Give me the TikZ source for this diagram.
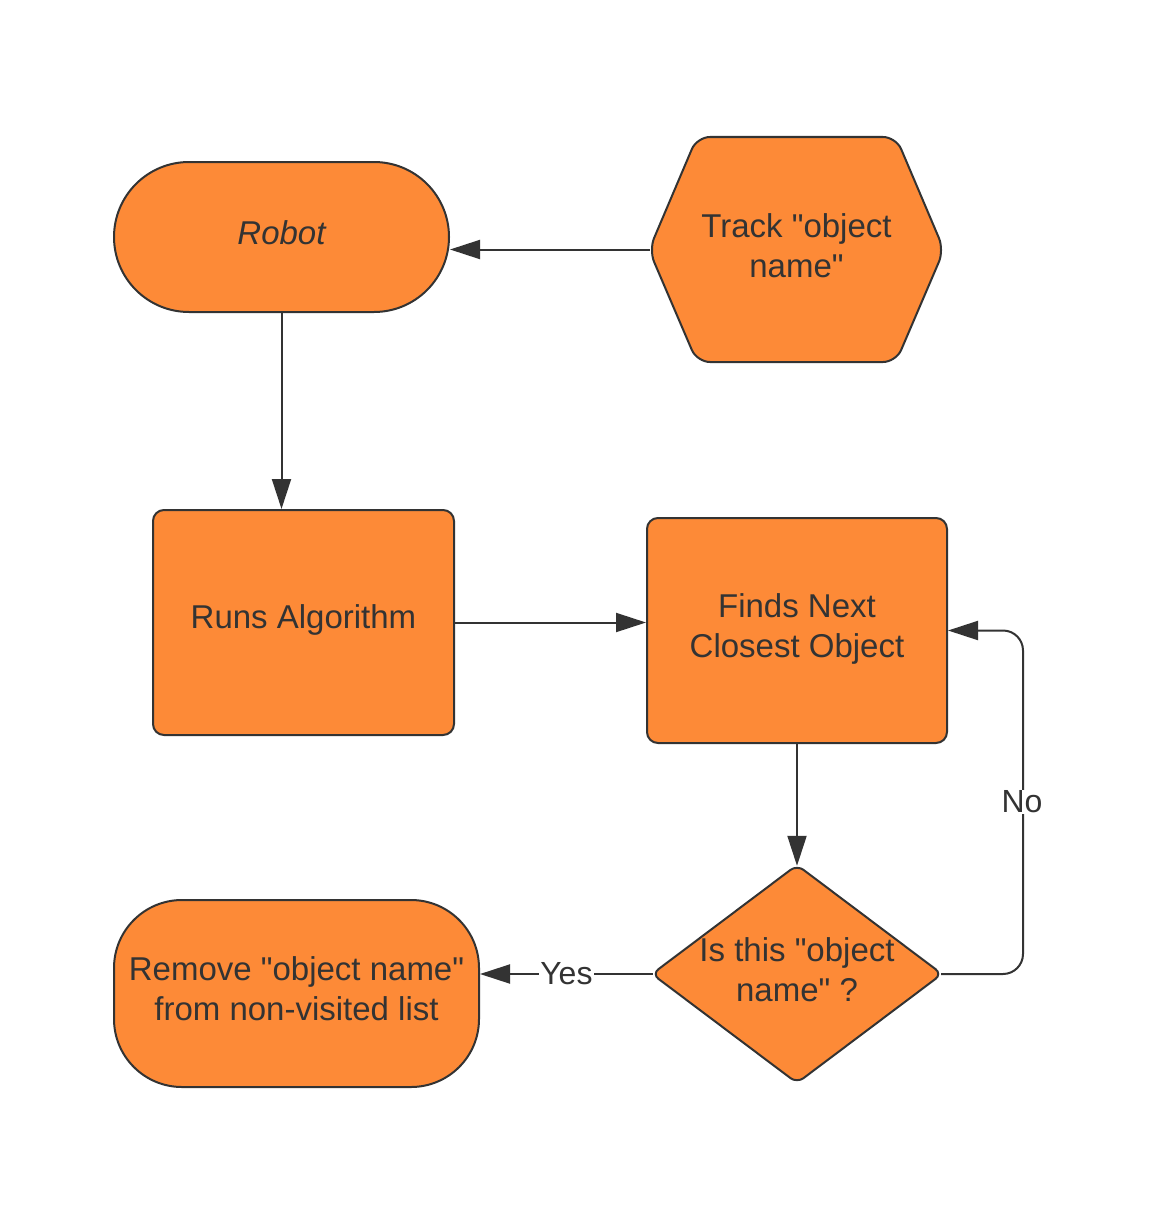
\documentclass[tikz,border=0pt]{standalone}
\usepackage{fontspec}
\setmainfont{Liberation Sans}[Ligatures=TeXOff]
\usetikzlibrary{arrows.meta}
\definecolor{org}{HTML}{FD8A37}
\definecolor{ink}{HTML}{333333}
\begin{document}
\begin{tikzpicture}[x=1pt,y=-1pt,
  shapefill/.style={draw=ink, fill=org, line width=2pt},
  txt/.style={text=ink, font=\fontsize{33}{40}\selectfont, align=center, inner sep=0pt},
  box/.style={shapefill, inner sep=0pt},
  conn/.style={draw=ink, line width=2pt, -{Triangle[length=30pt,width=19pt]}},
  lbl/.style={fill=white, text=ink, font=\fontsize{32}{38}\selectfont, inner sep=1pt}]
\useasboundingbox[fill=white] (0,0) rectangle (1149,1228);

% Robot
\node[box, rounded corners=75pt, minimum width=335pt, minimum height=150pt] (robot) at (281.5,237) {};
\node[txt, font=\fontsize{33}{40}\selectfont\itshape] (robott) at ([yshift=4pt]robot.center) {Robot};

% Hexagon
\path[shapefill, rounded corners=13pt] (796,137) -- (896,137) -- (944,250) -- (896,362) -- (697,362) -- (649,250) -- (697,137) -- cycle;
\node[minimum width=293pt, minimum height=225pt, inner sep=0pt] (hex) at (796.5,249.5) {};
\node[txt] (hext) at ([yshift=4pt]hex.center) {Track "object\\name"};

% Runs Algorithm
\node[box, rounded corners=11pt, minimum width=301pt, minimum height=225pt] (run) at (303.5,622.5) {};
\node[txt] (runt) at ([yshift=3pt]run.center) {Runs Algorithm};

% Finds Next
\node[box, rounded corners=11pt, minimum width=300pt, minimum height=225pt] (find) at (797,630.5) {};
\node[txt] (findt) at ([yshift=2pt]find.center) {Finds Next\\Closest Object};

% Diamond
\path[shapefill, rounded corners=8pt] (797,865) -- (942,974) -- (797,1083) -- (652,974) -- cycle;
\node[minimum width=288pt, minimum height=216pt, inner sep=0pt] (dia) at (797,974) {};
\node[txt] (diat) at ([yshift=4pt]dia.center) {Is this "object\\name" ?};

% Remove
\node[box, rounded corners=68pt, minimum width=365pt, minimum height=187pt] (rem) at (296.5,993.5) {};
\node[txt] (remt) at ([yshift=5pt]rem.center) {Remove "object name"\\from non-visited list};

% Connectors
\draw[conn] (hex.west) -- (hex.west -| robot.east);
\draw[conn] (robot.south) -- (robot.south |- run.north);
\draw[conn] (run.east) -- (run.east -| find.west);
\draw[conn] (find.south) -- (dia.north);
\draw[conn] (dia.west) -- (dia.west -| rem.east) node[lbl, midway] (yes) {Yes};
\coordinate (loop) at ([xshift=75pt]find.east);
\draw[conn, rounded corners=20pt] (dia.east) -| (loop) -- (find.east);
\node[lbl] (no) at (1022,802) {No};
\end{tikzpicture}
\end{document}
